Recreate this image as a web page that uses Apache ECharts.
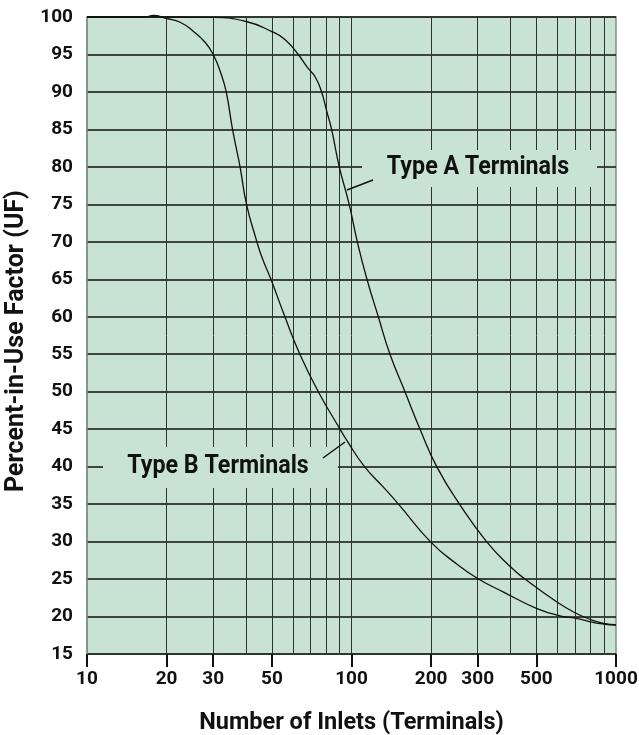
<!DOCTYPE html>
<html>
<head>
<meta charset="utf-8">
<script src="https://cdn.jsdelivr.net/npm/echarts@6/dist/echarts.min.js"></script>
<style>
html,body{margin:0;padding:0;background:#fff;}
#c{width:639px;height:735px;}
</style>
</head>
<body>
<div id="c"></div>
<script>
// ---- data ----
const xTickLabels = [10, 20, 30, 50, 100, 200, 300, 500, 1000];
const xGridValues = [20, 30, 40, 50, 60, 70, 80, 90, 100, 200, 300, 400, 500, 600, 700, 800, 900];
const yMin = 15, yMax = 100, yStep = 5;

const typeAX = [10, 20, 30, 40, 50, 56, 62.9, 68, 72.9, 77.1, 80.5, 84.1, 89.9, 98, 105.2, 114.4, 126.3, 139.8, 159.3, 181.6, 210, 256, 324, 400, 453, 600, 700, 800, 900, 1000];
const typeAY = [100, 100, 99.95, 99.4, 98.05, 97, 95, 93.3, 92, 90, 87.5, 85, 80, 75, 70, 65, 60, 55, 50, 45, 40, 35, 30, 26.6, 25, 21.9, 20.5, 19.6, 19.1, 18.9];

const typeBX = [10, 16.5, 17.8, 20, 22.5, 25.2, 28, 30, 32, 33.6, 35.5, 37.9, 40.1, 43.9, 46, 49.6, 56, 63.8, 74.9, 90.5, 96, 112, 131.7, 150.5, 198.6, 250, 302, 374, 500, 631, 700, 800, 900, 1000];
const typeBY = [100, 100, 100.2, 99.8, 99.3, 98.1, 96.6, 95, 92.6, 90, 85, 80, 75, 70, 67.8, 65, 60, 55, 50, 45, 43.5, 40, 37.3, 35, 30, 27.0, 25, 23.3, 21.1, 20.0, 19.8, 19.3, 19.0, 18.85];

const labelA = 'Type A Terminals';
const labelB = 'Type B Terminals';
const xTitle = 'Number of Inlets (Terminals)';
const yTitle = 'Percent-in-Use Factor (UF)';

// ---- chart ----
const FONT = 'Roboto, "Liberation Sans", sans-serif';
const BG = '#c8e2d4';
const zip = (xs, ys) => xs.map((x, i) => [x, ys[i]]);
const lg = v => Math.log10(v);

const chart = echarts.init(document.getElementById('c'), null, {renderer: 'canvas'});
chart.setOption({
  animation: false,
  backgroundColor: '#ffffff',
  grid: {left: 87, top: 17, right: 23, bottom: 81, outerBoundsMode: 'none', containLabel: false,
    show: true, backgroundColor: BG, borderColor: '#7f8f86', borderWidth: 1.5},
  xAxis: [
    { // labelled ticks (log10 space)
      type: 'value', min: lg(10), max: lg(1000), position: 'bottom',
      name: xTitle, nameLocation: 'middle', nameGap: 57,
      nameTextStyle: {fontFamily: FONT, fontWeight: 'bold', fontSize: 23.5, color: '#111'},
      axisLine: {show: false},
      axisTick: {show: true, customValues: xTickLabels.map(lg), length: 13, lineStyle: {color: '#111', width: 2}},
      axisLabel: {customValues: xTickLabels.map(lg), margin: 16, fontFamily: FONT, fontWeight: 'bold', fontSize: 19, color: '#111',
        formatter: v => String(Math.round(Math.pow(10, v)))},
      splitLine: {show: false}
    },
    { // vertical grid lines
      type: 'value', min: lg(10), max: lg(1000),
      axisLine: {show: false}, axisLabel: {show: false},
      axisTick: {show: false, customValues: xGridValues.map(lg)},
      splitLine: {show: true, lineStyle: {color: '#2a342e', width: 1}}
    },
    { // data axis
      type: 'log', logBase: 10, min: 10, max: 1000, show: false
    }
  ],
  yAxis: {
    type: 'value', min: yMin, max: yMax, interval: yStep,
    name: yTitle, nameLocation: 'middle', nameGap: 56,
    nameTextStyle: {fontFamily: FONT, fontWeight: 'bold', fontSize: 25, color: '#111', padding: [0, 11, 0, 0]},
    axisLine: {show: true, lineStyle: {color: '#7f8f86', width: 1.5}},
    axisTick: {show: false},
    axisLabel: {margin: 14, fontFamily: FONT, fontWeight: 'bold', fontSize: 19, color: '#111'},
    splitLine: {show: true, lineStyle: {color: '#111', width: 1.7}}
  },
  graphic: [
    {type: 'rect', z: 1, shape: {x: 362, y: 150, width: 235, height: 37}, style: {fill: BG}},
    {type: 'text', z: 1, x: 478, y: 168, scaleX: 0.93, style: {text: labelA, font: 'bold 25px ' + FONT, fill: '#111', align: 'center', verticalAlign: 'middle'}},
    {type: 'line', z: 1, shape: {x1: 373, y1: 180, x2: 347, y2: 190}, style: {stroke: '#111', lineWidth: 1.5}},
    {type: 'rect', z: 1, shape: {x: 103, y: 447, width: 235, height: 41}, style: {fill: BG}},
    {type: 'text', z: 1, x: 218, y: 467, scaleX: 0.93, style: {text: labelB, font: 'bold 25px ' + FONT, fill: '#111', align: 'center', verticalAlign: 'middle'}},
    {type: 'line', z: 1, shape: {x1: 323, y1: 458, x2: 345, y2: 442}, style: {stroke: '#111', lineWidth: 1.5}}
  ],
  series: [
    {name: labelA, type: 'line', xAxisIndex: 2, data: zip(typeAX, typeAY), smooth: 0.5,
      showSymbol: false, clip: false, lineStyle: {color: '#111', width: 1.3}, z: 3},
    {name: labelB, type: 'line', xAxisIndex: 2, data: zip(typeBX, typeBY), smooth: 0.5,
      showSymbol: false, clip: false, lineStyle: {color: '#111', width: 1.3}, z: 3}
  ]
});
</script>
</body>
</html>
